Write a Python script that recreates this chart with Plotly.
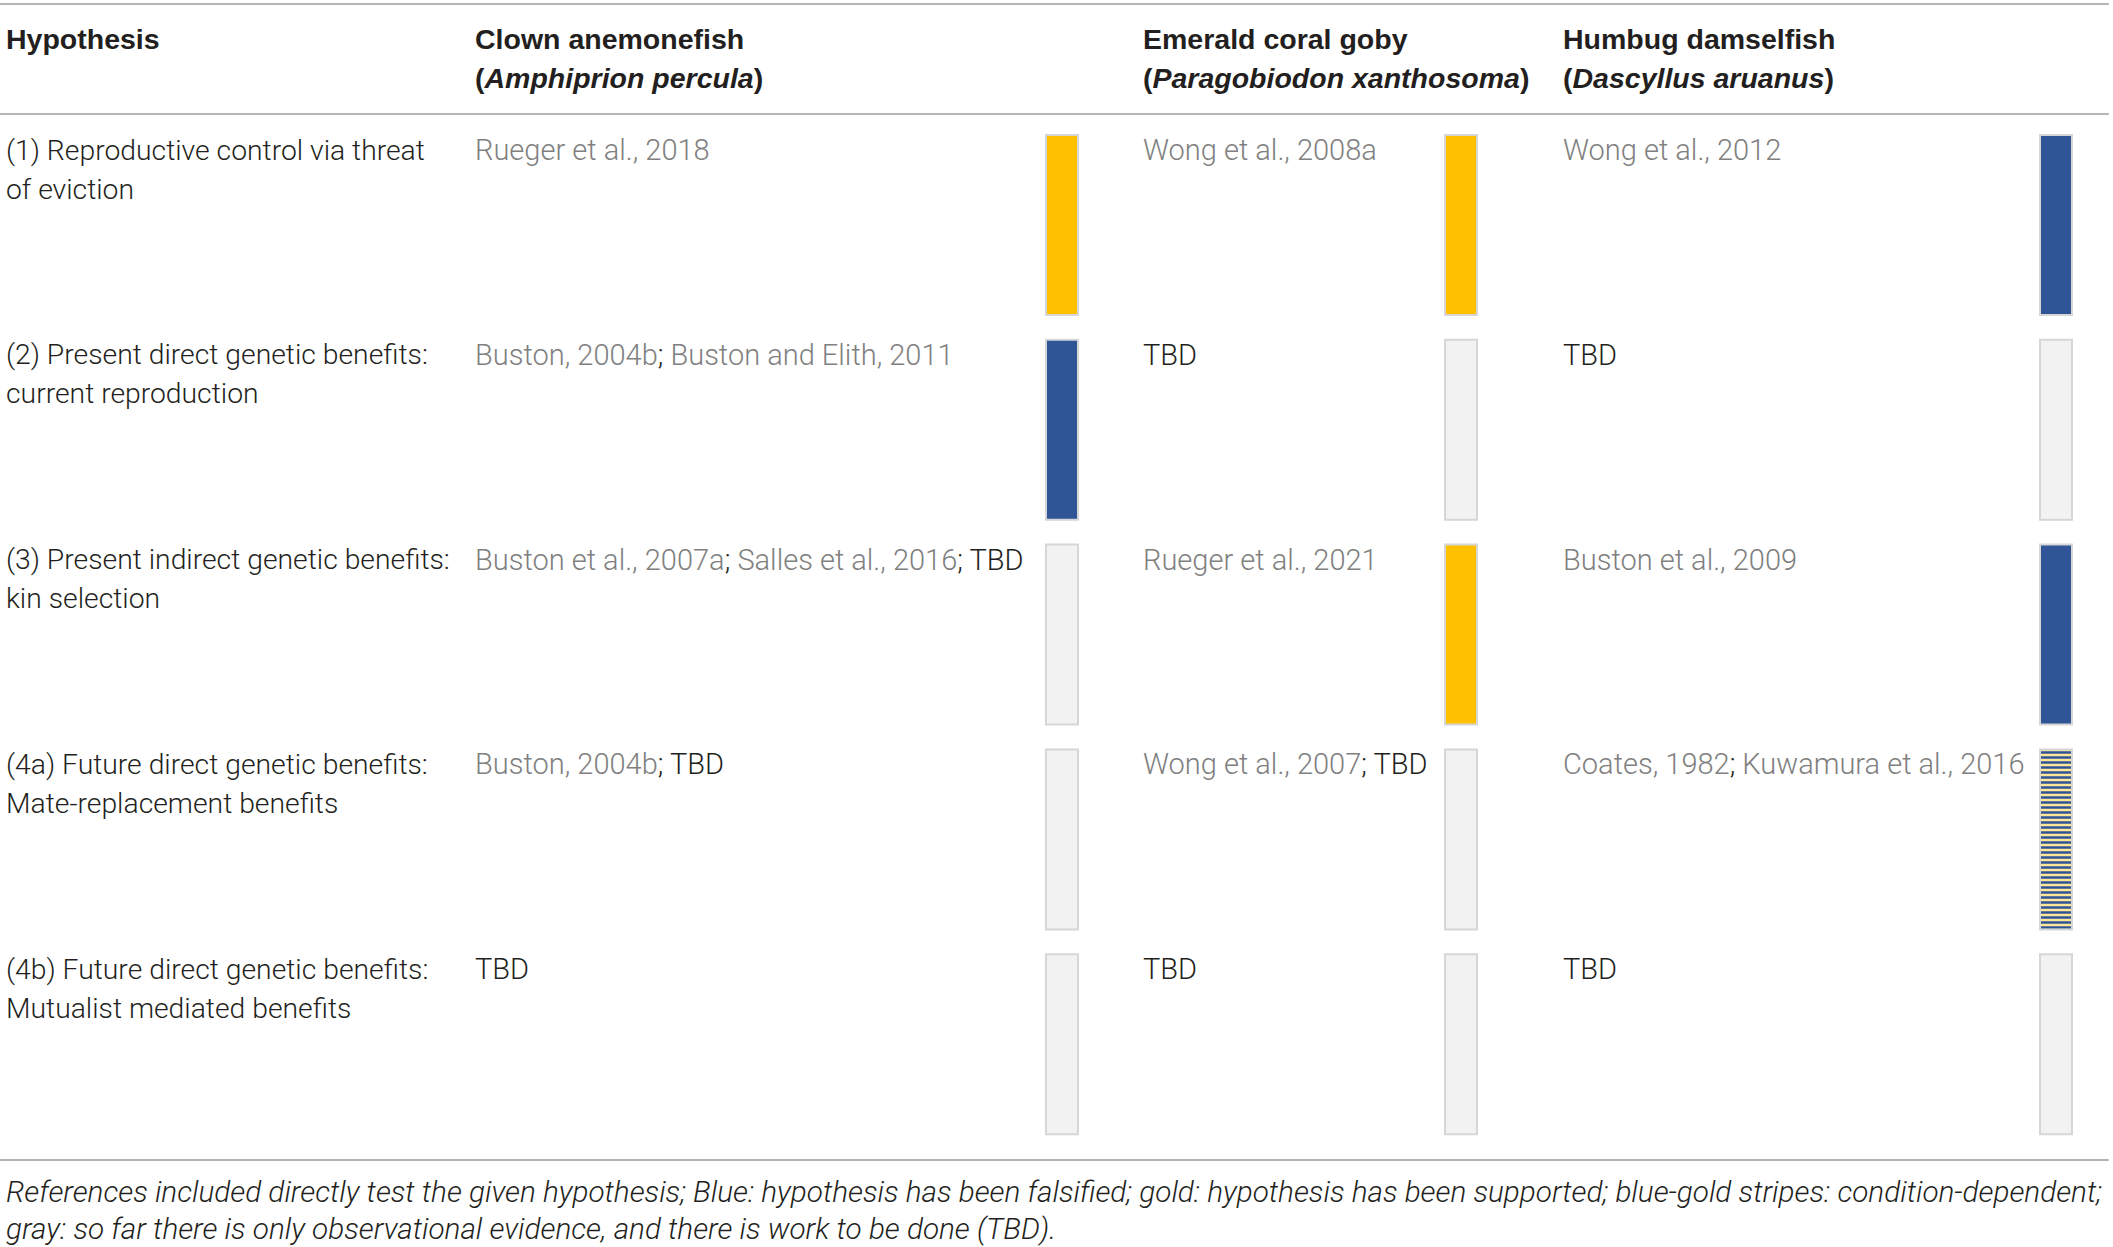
#!/usr/bin/env python3
import plotly.graph_objects as go

# table content
hypotheses = [
    ["(1) Reproductive control via threat", "of eviction"],
    ["(2) Present direct genetic benefits:", "current reproduction"],
    ["(3) Present indirect genetic benefits:", "kin selection"],
    ["(4a) Future direct genetic benefits:", "Mate-replacement benefits"],
    ["(4b) Future direct genetic benefits:", "Mutualist mediated benefits"],
]
species_common = ["Clown anemonefish", "Emerald coral goby", "Humbug damselfish"]
species_latin = ["Amphiprion percula", "Paragobiodon xanthosoma", "Dascyllus aruanus"]

refs_clown = ["Rueger et al., 2018",
              "Buston, 2004b; Buston and Elith, 2011",
              "Buston et al., 2007a; Salles et al., 2016; TBD",
              "Buston, 2004b; TBD",
              "TBD"]
refs_goby = ["Wong et al., 2008a",
             "TBD",
             "Rueger et al., 2021",
             "Wong et al., 2007; TBD",
             "TBD"]
refs_humbug = ["Wong et al., 2012",
               "TBD",
               "Buston et al., 2009",
               "Coates, 1982; Kuwamura et al., 2016",
               "TBD"]

# F = falsified, S = supported, C = condition-dependent, T = to be done
status_clown = ["S", "F", "T", "T", "T"]
status_goby = ["S", "T", "S", "T", "T"]
status_humbug = ["F", "T", "F", "C", "T"]

caption = ["References included directly test the given hypothesis; Blue: hypothesis has been falsified; "
           "gold: hypothesis has been supported; blue-gold stripes: condition-dependent;",
           "gray: so far there is only observational evidence, and there is work to be done (TBD)."]

# layout constants (pixels)
W, H = 2113, 1247
col_text_x = [4, 473, 1141, 1561]
bar_x = [1062, 1461, 2056]
bar_w = 32
row_top0 = 135
row_pitch = 204.8
bar_h = 180
FONT = "Roboto"
HEAD_FONT = "Liberation Sans"
GRAY_TXT = "#808080"
DARK = "#231F20"

styles = {
    "F": dict(color="#2F5597"),
    "S": dict(color="#FFC000"),
    "T": dict(color="#F2F2F2"),
    "C": dict(color="#FFE699",
              pattern=dict(shape="-", fgcolor="#2F5597", bgcolor="#FFE699",
                           size=5, solidity=0.5, fillmode="replace")),
}
names = {"F": "falsified", "S": "supported", "T": "TBD", "C": "condition-dependent"}

fig = go.Figure()

statuses = [status_clown, status_goby, status_humbug]
for code in ["F", "S", "T", "C"]:
    xs, bases = [], []
    for j, col in enumerate(statuses):
        for i, s in enumerate(col):
            if s == code:
                xs.append(bar_x[j])
                bases.append(row_top0 + i * row_pitch)
    fig.add_trace(go.Bar(
        x=xs, y=[bar_h] * len(xs), base=bases, width=bar_w, name=names[code],
        marker=dict(line=dict(color="#D6D6D6", width=2), **styles[code]),
        showlegend=False, hoverinfo="skip",
    ))


def ref_html(s):
    parts = s.split("; ")
    out = []
    for p in parts:
        if p == "TBD":
            out.append(f"<span style='color:{DARK}'>TBD</span>")
        else:
            out.append(p)
    return f"<span style='color:{DARK}'>; </span>".join(out)


head_font = dict(family=HEAD_FONT, size=28.5, color=DARK)
body_font = dict(family=FONT, size=28.3, color=DARK, weight=300)

ann = []
# header
ann.append(dict(x=col_text_x[0], y=39, text="<b>Hypothesis</b>", font=head_font))
for j in range(3):
    ann.append(dict(x=col_text_x[j + 1], y=39, text=f"<b>{species_common[j]}</b>", font=head_font))
    ann.append(dict(x=col_text_x[j + 1], y=78, text=f"<b>(<i>{species_latin[j]}</i>)</b>", font=head_font))

# rows
all_refs = [refs_clown, refs_goby, refs_humbug]
for i, hyp in enumerate(hypotheses):
    y0 = row_top0 + i * row_pitch + 15
    ann.append(dict(x=col_text_x[0], y=y0, text=hyp[0]))
    ann.append(dict(x=col_text_x[0], y=y0 + 39, text=hyp[1]))
    for j in range(3):
        ann.append(dict(x=col_text_x[j + 1], y=y0, text=ref_html(all_refs[j][i]),
                        font=dict(family=FONT, size=29, color=GRAY_TXT, weight=300)))

# caption
cap_font = dict(family=FONT, size=29.7, color=DARK, weight=300)
ann.append(dict(x=col_text_x[0], y=1191, text=f"<i>{caption[0]}</i>", font=cap_font))
ann.append(dict(x=col_text_x[0], y=1228, text=f"<i>{caption[1]}</i>", font=cap_font))

for a in ann:
    a.setdefault("font", body_font)
    a.update(xref="x", yref="y", xanchor="left", yanchor="middle", showarrow=False)

# rules
shapes = []
for yl in [4, 114, 1160]:
    shapes.append(dict(type="line", xref="paper", yref="y", x0=0, x1=0.998, y0=yl, y1=yl,
                       line=dict(color="#B4B4B4", width=2)))

fig.update_layout(
    width=W, height=H,
    margin=dict(l=0, r=0, t=0, b=0),
    paper_bgcolor="white", plot_bgcolor="white",
    xaxis=dict(range=[0, W], visible=False, fixedrange=True),
    yaxis=dict(range=[H, 0], visible=False, fixedrange=True),
    annotations=ann, shapes=shapes,
    barmode="overlay",
)

fig.write_html("out.html", config={"displayModeBar": False},
               post_script="document.body.style.margin='0';document.body.style.overflow='hidden';")
